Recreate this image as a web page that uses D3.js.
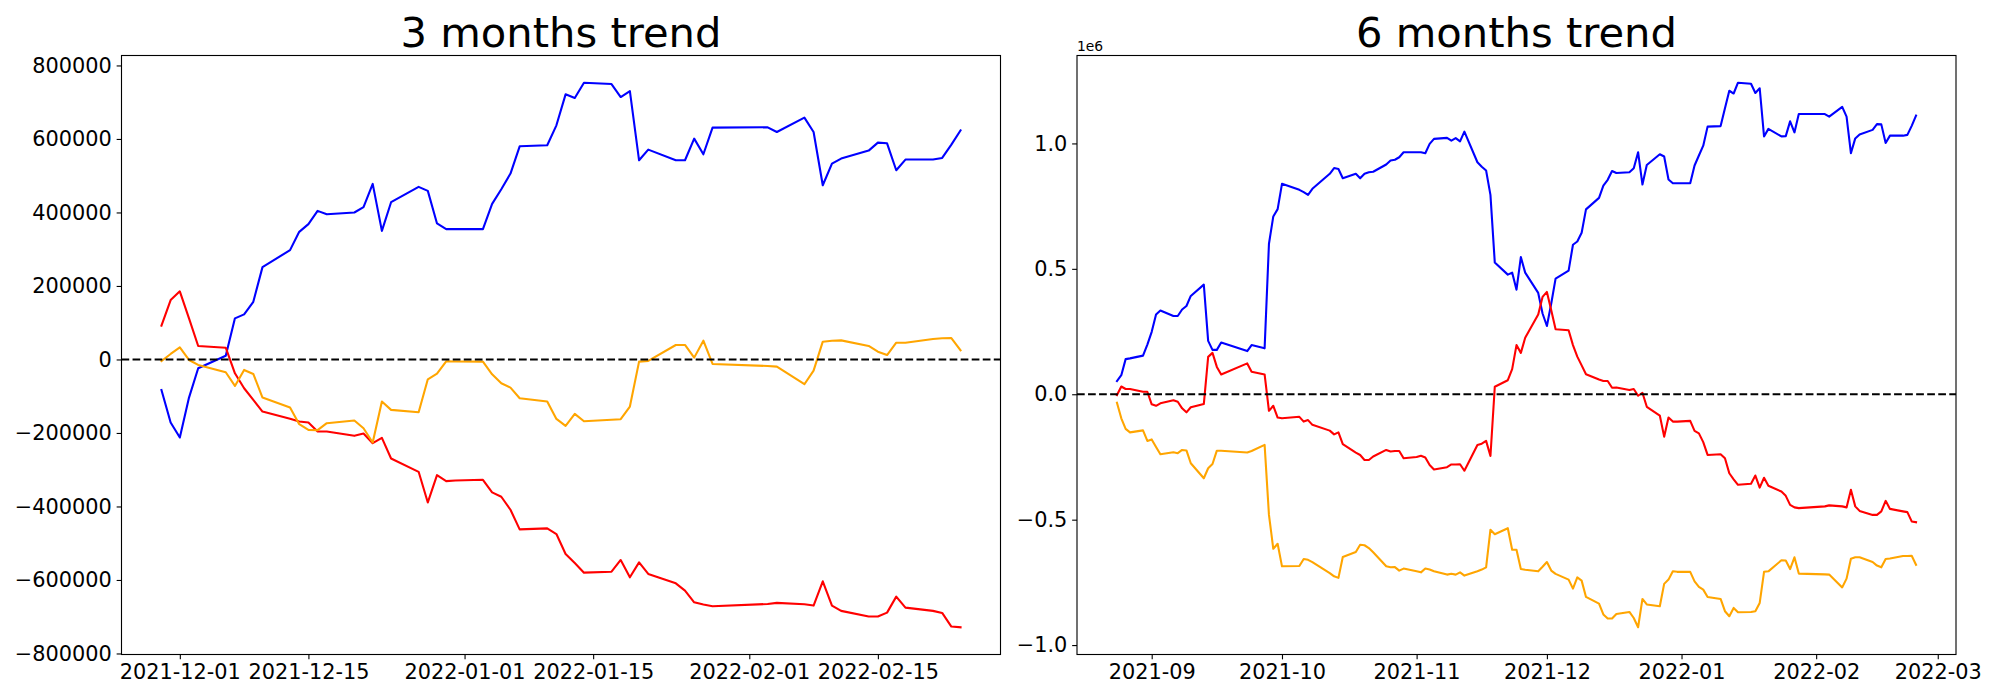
<!DOCTYPE html>
<html><head><meta charset="utf-8">
<script src="https://cdn.jsdelivr.net/npm/d3@7"></script>
<style>body{margin:0;background:#fff} svg text{font-family:"DejaVu Sans",sans-serif}</style>
</head><body><svg id="c" width="2000" height="700"></svg>
<script>
// ---------- 3 months trend ----------
const dates3m = ["2021-11-29","2021-11-30","2021-12-01","2021-12-02","2021-12-03","2021-12-06","2021-12-07","2021-12-08","2021-12-09","2021-12-10","2021-12-13","2021-12-14","2021-12-15","2021-12-16","2021-12-17","2021-12-20","2021-12-21","2021-12-22","2021-12-23","2021-12-24","2021-12-27","2021-12-28","2021-12-29","2021-12-30","2021-12-31","2022-01-03","2022-01-04","2022-01-05","2022-01-06","2022-01-07","2022-01-10","2022-01-11","2022-01-12","2022-01-13","2022-01-14","2022-01-17","2022-01-18","2022-01-19","2022-01-20","2022-01-21","2022-01-24","2022-01-25","2022-01-26","2022-01-27","2022-01-28","2022-02-03","2022-02-04","2022-02-07","2022-02-08","2022-02-09","2022-02-10","2022-02-11","2022-02-14","2022-02-15","2022-02-16","2022-02-17","2022-02-18","2022-02-21","2022-02-22","2022-02-23","2022-02-24"];
const blue3m = [-83000,-171600,-212400,-103700,-24000,10000,111900,122800,157000,251300,297500,347300,368200,404300,395300,399900,414300,477700,350000,427900,469600,458700,370000,354600,354600,354600,423400,463200,505800,580000,582800,637100,721400,711400,753000,749400,714100,730400,542000,571000,542000,542000,600900,558300,630800,631700,619000,658000,619000,474100,533000,546600,568300,590000,588200,514900,543900,543900,548300,584600,623500];
const red3m = [91900,161700,185300,111900,36700,32100,-37600,-78300,-110000,-141800,-161000,-168900,-171700,-196100,-196100,-207800,-201500,-227800,-213300,-269500,-305700,-389000,-314700,-331000,-329500,-327400,-361800,-373600,-408900,-462400,-459700,-475000,-529300,-553700,-580100,-577400,-545600,-592800,-552100,-583600,-609100,-628900,-660700,-667000,-671600,-665200,-662400,-666200,-669700,-603700,-669700,-684100,-699600,-699600,-688800,-645300,-675200,-684100,-689600,-726800,-728700];
const orange3m = [-4100,15000,33000,-1400,-14900,-34900,-72000,-28500,-39400,-103700,-130900,-176200,-191500,-192400,-173400,-166200,-187000,-226000,-114600,-137200,-143500,-53900,-38500,-5000,-5500,-5900,-40300,-64700,-76500,-105500,-114600,-161700,-180700,-148100,-168000,-164000,-162600,-128200,-5900,-4100,39400,39400,5000,51100,-12200,-17700,-19500,-67400,-30400,48400,51100,52000,36700,21200,12000,45600,45600,55700,57500,58400,25000];
const xTicks3m = ["2021-12-01","2021-12-15","2022-01-01","2022-01-15","2022-02-01","2022-02-15"];
const yTicks3m = [-800000,-600000,-400000,-200000,0,200000,400000,600000,800000];

// ---------- 6 months trend (values in units of 1e6) ----------
const dates6m = ["2021-08-24","2021-08-25","2021-08-26","2021-08-27","2021-08-30","2021-08-31",
"2021-09-01","2021-09-02","2021-09-03","2021-09-06","2021-09-07","2021-09-08","2021-09-09","2021-09-10","2021-09-13","2021-09-14","2021-09-15","2021-09-16","2021-09-17","2021-09-23","2021-09-24","2021-09-27","2021-09-28","2021-09-29","2021-09-30",
"2021-10-01","2021-10-05","2021-10-06","2021-10-07","2021-10-08","2021-10-12","2021-10-13","2021-10-14","2021-10-15","2021-10-18","2021-10-19","2021-10-20","2021-10-21","2021-10-22","2021-10-25","2021-10-26","2021-10-27","2021-10-28","2021-10-29",
"2021-11-01","2021-11-02","2021-11-03","2021-11-04","2021-11-05","2021-11-08","2021-11-09","2021-11-10","2021-11-11","2021-11-12","2021-11-15","2021-11-16","2021-11-17","2021-11-18","2021-11-19","2021-11-22","2021-11-23","2021-11-24","2021-11-25","2021-11-26","2021-11-29","2021-11-30",
"2021-12-01","2021-12-02","2021-12-03","2021-12-06","2021-12-07","2021-12-08","2021-12-09","2021-12-10","2021-12-13","2021-12-14","2021-12-15","2021-12-16","2021-12-17","2021-12-20","2021-12-21","2021-12-22","2021-12-23","2021-12-24","2021-12-27","2021-12-28","2021-12-29","2021-12-30","2021-12-31",
"2022-01-03","2022-01-04","2022-01-05","2022-01-06","2022-01-07","2022-01-10","2022-01-11","2022-01-12","2022-01-13","2022-01-14","2022-01-17","2022-01-18","2022-01-19","2022-01-20","2022-01-21","2022-01-24","2022-01-25","2022-01-26","2022-01-27","2022-01-28",
"2022-02-03","2022-02-04","2022-02-07","2022-02-08","2022-02-09","2022-02-10","2022-02-11","2022-02-14","2022-02-15","2022-02-16","2022-02-17","2022-02-18","2022-02-21","2022-02-22","2022-02-23","2022-02-24"];
const blue6m = [0.0525,0.076,0.140,0.143,0.154,0.198,
0.249,0.318,0.334,0.312,0.312,0.338,0.352,0.392,0.437,0.213,0.177,0.177,0.206,0.172,0.196,0.183,0.600,0.709,0.738,
0.839,0.815,0.806,0.795,0.819,0.879,0.902,0.898,0.861,0.879,0.861,0.879,0.885,0.887,0.916,0.932,0.935,0.945,0.965,
0.965,0.965,0.961,0.998,1.018,1.022,1.011,1.021,1.008,1.047,0.925,0.907,0.892,0.795,0.525,0.477,0.485,0.417,0.547,0.485,0.404,0.322,
0.272,0.362,0.461,0.493,0.596,0.609,0.644,0.737,0.783,0.832,0.855,0.890,0.882,0.885,0.901,0.965,0.836,0.914,0.957,0.948,0.856,0.841,0.841,
0.841,0.912,0.952,0.991,1.067,1.069,1.140,1.210,1.199,1.242,1.238,1.201,1.220,1.028,1.058,1.028,1.029,1.088,1.044,1.117,
1.117,1.107,1.146,1.107,0.961,1.020,1.036,1.054,1.077,1.076,1.002,1.031,1.031,1.034,1.070,1.111];
const red6m = [-0.003,0.031,0.021,0.021,0.010,0.010,
-0.040,-0.046,-0.036,-0.024,-0.030,-0.056,-0.072,-0.052,-0.039,0.149,0.165,0.109,0.079,0.123,0.090,0.079,-0.066,-0.046,-0.093,
-0.096,-0.090,-0.109,-0.103,-0.122,-0.145,-0.160,-0.152,-0.199,-0.233,-0.242,-0.262,-0.262,-0.248,-0.222,-0.228,-0.226,-0.226,-0.255,
-0.250,-0.245,-0.252,-0.282,-0.300,-0.291,-0.280,-0.280,-0.279,-0.305,-0.202,-0.197,-0.186,-0.246,0.030,0.056,0.100,0.196,0.165,0.225,0.318,0.388,
0.408,0.335,0.259,0.255,0.196,0.150,0.115,0.080,0.059,0.053,0.053,0.026,0.027,0.017,0.021,-0.006,0.006,-0.050,-0.085,-0.169,-0.093,-0.109,-0.109,
-0.106,-0.146,-0.156,-0.191,-0.242,-0.239,-0.255,-0.315,-0.339,-0.361,-0.357,-0.324,-0.372,-0.333,-0.365,-0.388,-0.405,-0.441,-0.451,-0.454,
-0.447,-0.443,-0.447,-0.451,-0.381,-0.447,-0.465,-0.481,-0.481,-0.467,-0.425,-0.457,-0.467,-0.470,-0.507,-0.510];
const orange6m = [-0.034,-0.096,-0.138,-0.152,-0.144,-0.186,
-0.180,-0.210,-0.239,-0.231,-0.235,-0.222,-0.224,-0.275,-0.335,-0.295,-0.278,-0.225,-0.225,-0.232,-0.226,-0.202,-0.481,-0.616,-0.596,
-0.686,-0.685,-0.657,-0.660,-0.669,-0.713,-0.726,-0.732,-0.649,-0.629,-0.600,-0.602,-0.613,-0.630,-0.686,-0.690,-0.689,-0.703,-0.695,
-0.706,-0.710,-0.695,-0.699,-0.706,-0.719,-0.716,-0.719,-0.710,-0.723,-0.706,-0.699,-0.690,-0.540,-0.558,-0.534,-0.620,-0.620,-0.697,-0.700,-0.706,-0.688,
-0.669,-0.703,-0.716,-0.739,-0.775,-0.730,-0.743,-0.808,-0.835,-0.878,-0.894,-0.894,-0.876,-0.868,-0.892,-0.929,-0.816,-0.838,-0.845,-0.756,-0.739,-0.706,-0.708,
-0.708,-0.746,-0.768,-0.779,-0.808,-0.816,-0.865,-0.885,-0.852,-0.869,-0.868,-0.865,-0.832,-0.708,-0.706,-0.662,-0.663,-0.697,-0.650,-0.715,
-0.718,-0.719,-0.770,-0.735,-0.656,-0.650,-0.650,-0.669,-0.683,-0.690,-0.657,-0.655,-0.645,-0.645,-0.644,-0.680];
const xTicks6m = ["2021-09-01","2021-10-01","2021-11-01","2021-12-01","2022-01-01","2022-02-01","2022-03-01"];
const yTicks6m = [-1.0,-0.5,0.0,0.5,1.0];

const seriesColors = ["blue","red","orange"];

const parse = d3.utcParse("%Y-%m-%d");
const svg = d3.select("#c");
const PT = 100/72;
const minus = s => s.replace(/-/g, "\u2212");

function panel(o) {
  const dts = o.dates.map(parse);
  const all = o.series.flat();
  const [ymin, ymax] = d3.extent(all);
  const ypad = (ymax - ymin) * 0.05;
  const [t0, t1] = d3.extent(dts);
  const xpad = (t1 - t0) * 0.05;
  const x = d3.scaleUtc().domain([new Date(+t0 - xpad), new Date(+t1 + xpad)]).range([o.x0, o.x1]);
  const y = d3.scaleLinear().domain([ymin - ypad, ymax + ypad]).range([o.y1, o.y0]);
  const g = svg.append("g");

  const line = d3.line().x(d => x(d[0])).y(d => y(d[1]));
  o.series.forEach((vals, i) => {
    g.append("path").datum(dts.map((d, k) => [d, vals[k]]))
      .attr("d", line).attr("fill", "none").attr("stroke", seriesColors[i])
      .attr("stroke-width", 1.5 * PT).attr("stroke-linejoin", "round").attr("stroke-linecap", "square");
  });
  g.append("line").attr("x1", o.x0).attr("x2", o.x1).attr("y1", y(0)).attr("y2", y(0))
    .attr("stroke", "black").attr("stroke-width", 1.5 * PT).attr("stroke-dasharray", `${3.7*1.5*PT},${1.6*1.5*PT}`);

  const fs = 15 * PT;
  const xa = g.append("g").attr("transform", `translate(0,${o.y1})`)
    .call(d3.axisBottom(x).tickValues(o.xTicks.map(parse)).tickFormat(o.xFormat).tickSize(3.5*PT).tickPadding(3.5*PT));
  const ya = g.append("g").attr("transform", `translate(${o.x0},0)`)
    .call(d3.axisLeft(y).tickValues(o.yTicks).tickFormat(o.yFormat).tickSize(3.5*PT).tickPadding(3.5*PT));
  [xa, ya].forEach(a => {
    a.select(".domain").remove();
    a.attr("font-family", "DejaVu Sans").attr("font-size", fs);
    a.selectAll(".tick line").attr("stroke", "black").attr("stroke-width", 0.8 * PT);
    a.selectAll(".tick text").attr("fill", "black");
  });
  g.append("rect").attr("x", o.x0).attr("y", o.y0).attr("width", o.x1 - o.x0).attr("height", o.y1 - o.y0)
    .attr("fill", "none").attr("stroke", "black").attr("stroke-width", 0.8 * PT);
  g.append("text").attr("x", (o.x0 + o.x1) / 2).attr("y", o.y0 - 6 * PT).attr("text-anchor", "middle")
    .attr("font-size", 30 * PT).attr("fill", "black").text(o.title);
  if (o.offset) {
    g.append("text").attr("x", o.x0).attr("y", o.y0 - 5).attr("font-size", 10 * PT).attr("fill", "black").text(o.offset);
  }
}

panel({x0: 121.5, x1: 1000.5, y0: 55.5, y1: 654.5, dates: dates3m, series: [blue3m, red3m, orange3m],
  xTicks: xTicks3m, xFormat: d3.utcFormat("%Y-%m-%d"), yTicks: yTicks3m, yFormat: d => minus(String(d)),
  title: "3 months trend"});
panel({x0: 1077, x1: 1956, y0: 55.5, y1: 654.5, dates: dates6m, series: [blue6m, red6m, orange6m],
  xTicks: xTicks6m, xFormat: d3.utcFormat("%Y-%m"), yTicks: yTicks6m, yFormat: d => minus(d.toFixed(1)),
  title: "6 months trend", offset: "1e6"});
</script></body></html>
